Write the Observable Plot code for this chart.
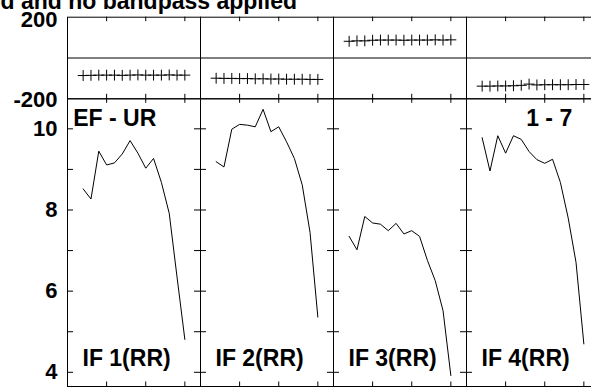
<!DOCTYPE html>
<html><head><meta charset="utf-8">
<script src="https://cdn.jsdelivr.net/npm/d3@7"></script>
<script src="https://cdn.jsdelivr.net/npm/@observablehq/plot@0.6"></script>
<style>
body{margin:0;overflow:hidden;background:#fff;}
#wrap{position:relative;width:591px;height:387px;overflow:hidden;font-family:"Liberation Sans",Arial,sans-serif;}
#wrap svg{position:absolute;left:0;top:0;}
#title{position:absolute;right:294px;top:-10px;font:bold 23px "Liberation Sans",Arial,sans-serif;line-height:23px;white-space:nowrap;color:#000;}
</style></head>
<body><div id="wrap"><div id="title">d and no bandpass applied</div></div>
<script>
const panels = ["IF 1(RR)", "IF 2(RR)", "IF 3(RR)", "IF 4(RR)"];
const channels = [2, 3, 4, 5, 6, 7, 8, 9, 10, 11, 12, 13, 14, 15];
const amp1 = [8.52, 8.27, 9.45, 9.11, 9.16, 9.38, 9.71, 9.40, 9.03, 9.27, 8.68, 7.92, 6.35, 4.81];
const amp2 = [9.19, 9.06, 9.99, 10.11, 10.09, 10.05, 10.48, 9.93, 10.05, 9.68, 9.27, 8.62, 7.45, 5.36];
const amp3 = [7.35, 7.02, 7.84, 7.68, 7.65, 7.49, 7.67, 7.41, 7.49, 7.35, 6.76, 6.26, 5.52, 3.92];
const amp4 = [9.78, 8.96, 9.83, 9.40, 9.83, 9.74, 9.44, 9.24, 9.15, 9.25, 8.68, 7.80, 6.71, 4.70];
const phase1 = [-86, -85, -84, -84, -84, -85, -84, -83, -84, -84, -84, -83, -84, -84];
const phase2 = [-99, -100, -100, -101, -101, -102, -102, -103, -103, -104, -104, -104, -105, -105];
const phase3 = [82, 84, 84, 87, 88, 88, 88, 87, 88, 88, 88, 89, 88, 89];
const phase4 = [-138, -138, -137, -137, -136, -134, -128, -132, -131, -131, -131, -131, -130, -130];
const xTicks = [5, 10, 15];
const ampTicks = [4, 5, 6, 7, 8, 9, 10];
const ampLabels = [4, 6, 8, 10];
const baselineLabel = "EF - UR";
const rangeLabel = "1 - 7";

const amps = [amp1, amp2, amp3, amp4];
const phases = [phase1, phase2, phase3, phase4];
const ampData = panels.flatMap((p, i) => channels.map((c, j) => ({panel: p, ch: c, v: amps[i][j]})));
const phaseData = panels.flatMap((p, i) => channels.map((c, j) => ({panel: p, ch: c, v: phases[i][j]})));

const W = 599, H = 387, ML = 67;
const panelW = (W - ML) / panels.length;
const topY0 = 16.7, topY1 = 98.3, botY1 = 386;
const svgStyle = {background: "transparent", maxWidth: "none", overflow: "visible", fontFamily: "'Liberation Sans', Arial, sans-serif"};

const topH = topY1 - topY0, botH = botY1 - topY1, tl = 4.5, yl = 6;

const topPlot = Plot.plot({
  width: W, height: H, marginLeft: ML, marginRight: 0, marginTop: topY0, marginBottom: H - topY1,
  style: svgStyle,
  x: {domain: [0, 17], axis: null},
  y: {domain: [-200, 200], axis: null},
  fx: {domain: panels, padding: 0, axis: null},
  marks: [
    Plot.ruleY([0], {stroke: "black"}),
    Plot.tickX(xTicks, {x: d => d, insetBottom: topH - tl, stroke: "black"}),
    Plot.tickX(xTicks, {x: d => d, insetTop: topH - tl, stroke: "black"}),
    Plot.dot(phaseData, {fx: "panel", x: "ch", y: "v", symbol: "plus", r: 3.6, stroke: "black", strokeWidth: 1}),
    Plot.frame({stroke: "black"}),
    Plot.axisY([200], {anchor: "left", label: null, tickSize: 0, tickPadding: 10, fontSize: 22, fontWeight: "bold", dy: 3, tickFormat: d => String(d)}),
    Plot.axisY([-200], {anchor: "left", label: null, tickSize: 0, tickPadding: 10, fontSize: 22, fontWeight: "bold", dy: 1, tickFormat: d => String(d)})
  ]
});

const botPlot = Plot.plot({
  width: W, height: H, marginLeft: ML, marginRight: 0, marginTop: topY1, marginBottom: H - botY1,
  style: svgStyle,
  x: {domain: [0, 17], axis: null},
  y: {domain: [3.65, 10.74], axis: null},
  fx: {domain: panels, padding: 0, axis: null},
  marks: [
    Plot.tickX(xTicks, {x: d => d, insetBottom: botH - tl, stroke: "black"}),
    Plot.tickX(xTicks, {x: d => d, insetTop: botH - tl, stroke: "black"}),
    Plot.tickY(ampTicks, {y: d => d, insetRight: panelW - yl, stroke: "black"}),
    Plot.tickY(ampTicks, {y: d => d, insetLeft: panelW - yl, stroke: "black"}),
    Plot.line(ampData, {fx: "panel", x: "ch", y: "v", stroke: "black", strokeWidth: 1}),
    Plot.frame({stroke: "black"}),
    Plot.axisY(ampLabels, {anchor: "left", label: null, tickSize: 0, tickPadding: 10, fontSize: 22, fontWeight: "bold", tickFormat: d => String(d)}),
    Plot.text(panels, {fx: d => d, text: d => d, frameAnchor: "bottom-left", textAnchor: "start", lineAnchor: "bottom", dx: 15, dy: -20.3, fontSize: 23, fontWeight: "bold", fill: "black"}),
    Plot.text([{panel: panels[0], t: baselineLabel}], {fx: "panel", text: "t", frameAnchor: "top-left", textAnchor: "start", lineAnchor: "bottom", dx: 5.7, dy: 26.7, fontSize: 23, fontWeight: "bold", fill: "black"}),
    Plot.text([{panel: panels[3], t: rangeLabel}], {fx: "panel", text: "t", frameAnchor: "top-right", textAnchor: "end", lineAnchor: "bottom", dx: -27.3, dy: 26.7, fontSize: 23, fontWeight: "bold", fill: "black"})
  ]
});

const wrap = document.getElementById("wrap");
wrap.appendChild(botPlot);
wrap.appendChild(topPlot);
</script>
</body></html>
